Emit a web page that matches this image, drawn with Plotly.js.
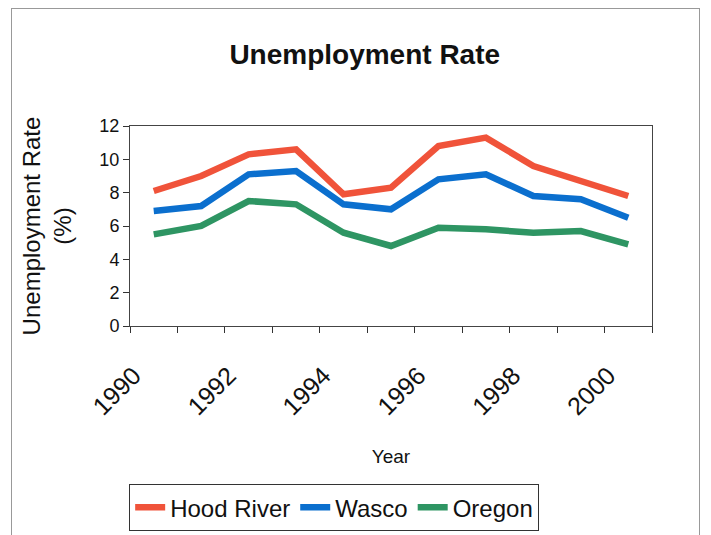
<!DOCTYPE html>
<html>
<head>
<meta charset="utf-8">
<script src="https://cdn.plot.ly/plotly-3.0.1.min.js"></script>
<style>
  html, body { margin: 0; padding: 0; background: #fff; }
  #frame { position: absolute; left: 11px; top: 8px; width: 689px; height: 540px; border: 1px solid #999; box-sizing: border-box; }
  #chart { position: absolute; left: 0; top: 0; width: 711px; height: 535px; }
</style>
</head>
<body>
<div id="frame"></div>
<div id="chart"></div>
<script>
const years = [1990, 1991, 1992, 1993, 1994, 1995, 1996, 1997, 1998, 1999, 2000];
const hoodRiver = [8.1, 9.0, 10.3, 10.6, 7.9, 8.3, 10.8, 11.3, 9.6, 8.7, 7.8];
const wasco = [6.9, 7.2, 9.1, 9.3, 7.3, 7.0, 8.8, 9.1, 7.8, 7.6, 6.5];
const oregon = [5.5, 6.0, 7.5, 7.3, 5.6, 4.8, 5.9, 5.8, 5.6, 5.7, 4.9];
const tickYears = [1990, 1992, 1994, 1996, 1998, 2000];
const tickLabels = ['1990', '1992', '1994', '1996', '1998', '2000'];

const font = 'Liberation Sans, Arial, sans-serif';
const mk = (name, y, color) => ({
  x: years, y: y, name: name, type: 'scatter', mode: 'lines',
  line: { color: color, width: 6.5 }
});

const data = [
  mk('Hood River', hoodRiver, '#f0533a'),
  mk('Wasco', wasco, '#0b6fce'),
  mk('Oregon', oregon, '#2e9563')
];

const layout = {
  width: 711, height: 535,
  margin: { l: 130, r: 59, t: 126, b: 209 },
  paper_bgcolor: 'rgba(0,0,0,0)', plot_bgcolor: '#fff',
  font: { family: font, color: '#111' },
  title: { text: '<b>Unemployment Rate</b>', font: { size: 28, family: font, color: '#111' },
           x: 0.513, xanchor: 'center', y: 0.898, yanchor: 'middle', xref: 'container', yref: 'container' },
  xaxis: {
    range: [1989.5, 2000.5], tickvals: tickYears, ticktext: tickLabels, tickangle: -45,
    ticks: '', tickfont: { size: 25 }, ticklabelstandoff: 24, ticklabelshift: -20,
    minor: { tickmode: 'linear', tick0: 1989.5, dtick: 1, ticks: 'outside', ticklen: 6, tickcolor: '#333', showgrid: false },
    showline: true, linecolor: '#444', linewidth: 1, mirror: true, showgrid: false, zeroline: false,
    title: { text: 'Year', font: { size: 19 }, standoff: 30 }
  },
  yaxis: {
    range: [0, 12], dtick: 2, ticks: 'outside', ticklen: 6, tickcolor: '#333', tickfont: { size: 18 },
    showline: true, linecolor: '#444', linewidth: 1, mirror: true, showgrid: false, zeroline: false,
    title: { text: 'Unemployment Rate<br>(%)', font: { size: 24 }, standoff: 20 }
  },
  showlegend: true,
  legend: {
    orientation: 'h', xref: 'container', yref: 'container', x: 0.47, xanchor: 'center',
    y: 0.095, yanchor: 'top', font: { size: 24, color: '#111' },
    bordercolor: '#333', borderwidth: 1, bgcolor: '#fff'
  }
};

Plotly.newPlot('chart', data, layout, { displayModeBar: false, staticPlot: true });
</script>
</body>
</html>
